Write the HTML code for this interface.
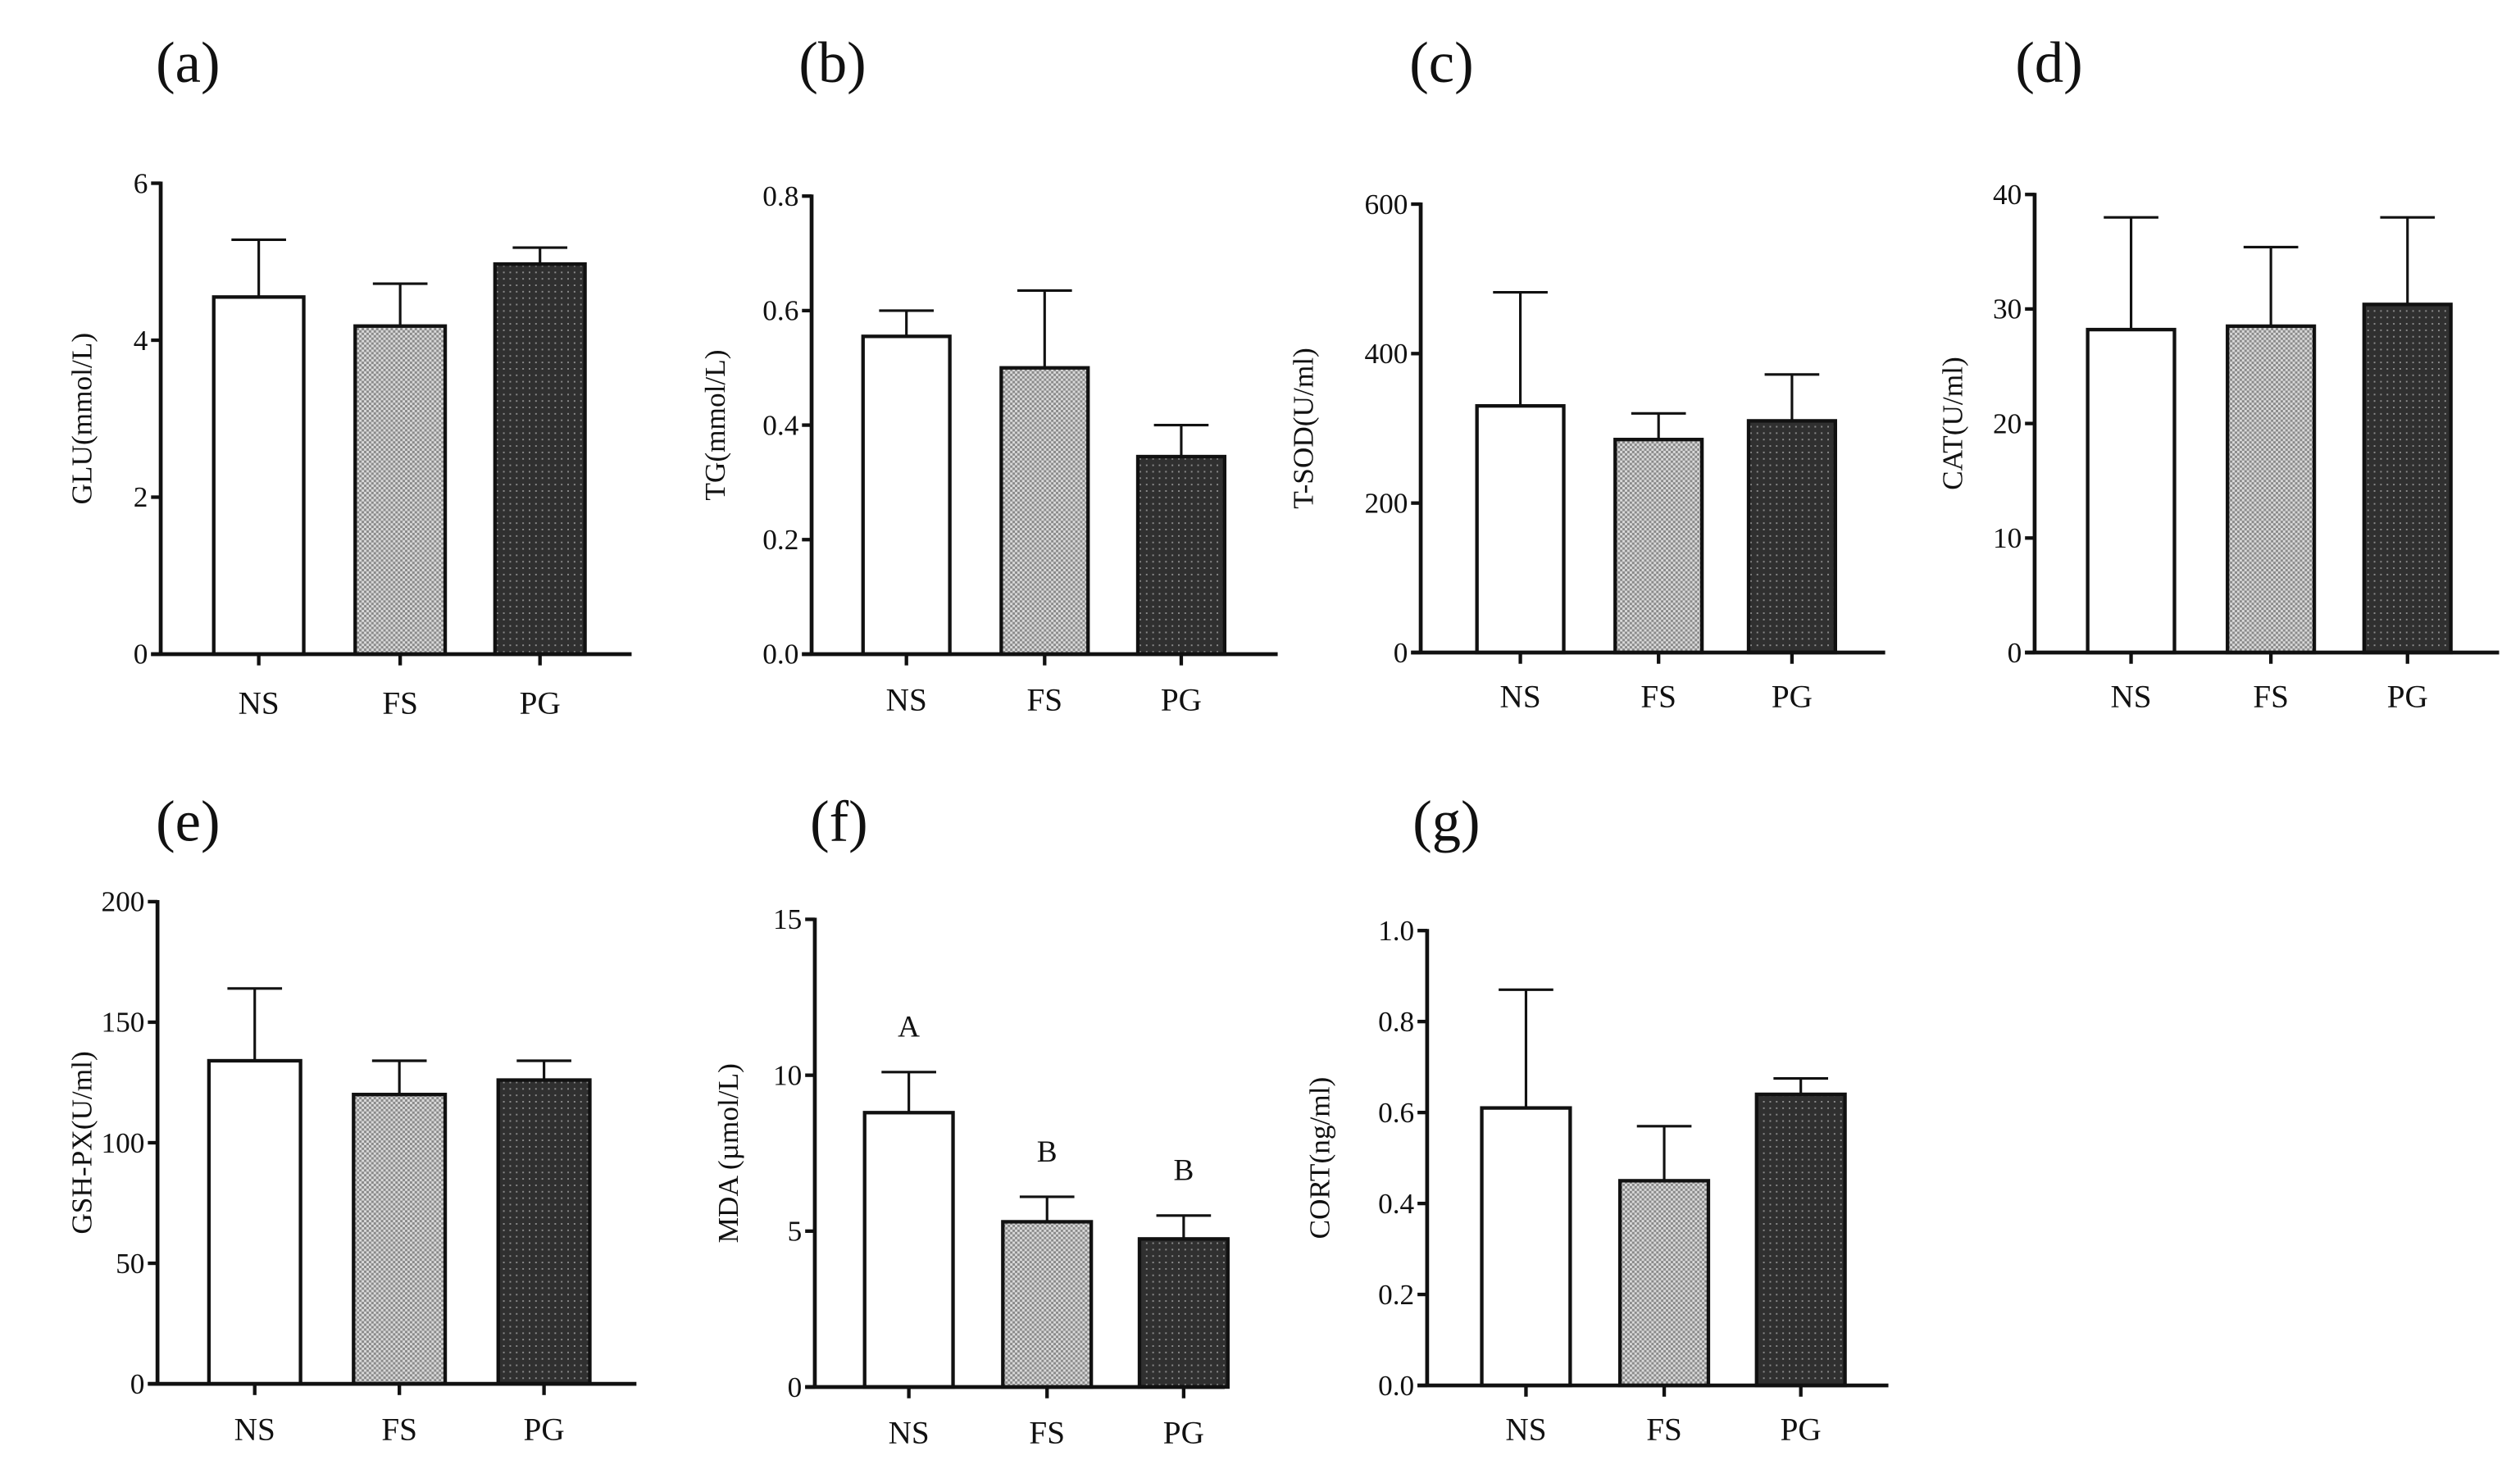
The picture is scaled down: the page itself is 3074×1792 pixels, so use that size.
<!DOCTYPE html>
<html><head><meta charset="utf-8"><style>
html,body{margin:0;padding:0;background:#fff;}
svg{display:block;}
text{font-family:"Liberation Serif",serif;fill:#111;}
</style></head><body>
<svg id="fig" width="3074" height="1792" viewBox="0 0 1568 914" preserveAspectRatio="none" xmlns="http://www.w3.org/2000/svg">
<defs>
<pattern id="pFS" width="3" height="3" patternUnits="userSpaceOnUse"><rect width="3" height="3" fill="#d8d8d8"/><rect width="1.5" height="1.5" fill="#8a8a8a"/><rect x="1.5" y="1.5" width="1.5" height="1.5" fill="#8a8a8a"/></pattern>
<pattern id="pPG" width="4" height="4" patternUnits="userSpaceOnUse"><rect width="4" height="4" fill="#303030"/><rect x="1" y="1" width="1" height="1" fill="#8a8a8a"/></pattern>
</defs>
</svg>
<script>
const categories = ["NS","FS","PG"];
const gluValues = [4.55, 4.18, 4.97];
const gluErrors = [5.28, 4.72, 5.18];
const gluTicks = [0, 2, 4, 6];
const tgValues = [0.555, 0.50, 0.345];
const tgErrors = [0.60, 0.635, 0.40];
const tgTicks = [0.0, 0.2, 0.4, 0.6, 0.8];
const sodValues = [330, 285, 310];
const sodErrors = [482, 320, 372];
const sodTicks = [0, 200, 400, 600];
const catValues = [28.2, 28.5, 30.4];
const catErrors = [38, 35.4, 38];
const catTicks = [0, 10, 20, 30, 40];
const gshValues = [134, 120, 126];
const gshErrors = [164, 134, 134];
const gshTicks = [0, 50, 100, 150, 200];
const mdaValues = [8.8, 5.3, 4.75];
const mdaErrors = [10.1, 6.1, 5.5];
const mdaTicks = [0, 5, 10, 15];
const mdaLetters = ["A","B","B"];
const cortValues = [0.61, 0.45, 0.64];
const cortErrors = [0.87, 0.57, 0.675];
const cortTicks = [0.0, 0.2, 0.4, 0.6, 0.8, 1.0];

const NS = "http://www.w3.org/2000/svg";
const svg = document.getElementById('fig');
function mk(tag, attrs, parent){
  const e = document.createElementNS(NS, tag);
  for (const k in attrs) e.setAttribute(k, attrs[k]);
  (parent||svg).appendChild(e);
  return e;
}
const fills = ["#fff","url(#pFS)","url(#pPG)"];

function panel(id, label, title, ticks, dec, vals, errs, L, letters){
  const g = mk('g', {});
  
  
  const max = ticks[ticks.length-1];
  const y = v => L.y0 - (v / max) * (L.y0 - L.yTop);
  const lab = mk('text', {x: L.lx, y: L.ly, 'font-size': 36}, g);
  lab.textContent = label;
  
  
  const yt = mk('text', {x: 0, y: 0, 'font-size': 18, 'text-anchor': 'middle', transform: `translate(${L.tx},${(L.y0+L.yTop)/2}) rotate(-90)`}, g);
  yt.textContent = title;
  
  
  ticks.forEach(t => {
    const ty = y(t);
    mk('line', {x1: L.ax-6, x2: L.ax, y1: ty, y2: ty, stroke: '#111', 'stroke-width': 2.2}, g);
    const tl = mk('text', {x: L.ax-8, y: ty+6, 'font-size': 18, 'text-anchor': 'end'}, g);
    tl.textContent = t.toFixed(dec);
    
    
  });
  vals.forEach((v, i) => {
    const x0 = L.bx[i], w = L.bw;
    const cx = x0 + w/2;
    const er = mk('path', {d: `M${cx},${y(v)} V${y(errs[i])} M${cx-17},${y(errs[i])} H${cx+17}`, stroke: '#111', 'stroke-width': 1.6, fill: 'none'}, g);
    
    
    const r = mk('rect', {x: x0, y: y(v), width: w, height: L.y0 - y(v), fill: fills[i], stroke: '#111', 'stroke-width': 2.2}, g);
    
    
    mk('line', {x1: cx, x2: cx, y1: L.y0, y2: L.y0+7, stroke: '#111', 'stroke-width': 2.2}, g);
    const cl = mk('text', {x: cx, y: L.cy, 'font-size': 20, 'text-anchor': 'middle'}, g);
    cl.textContent = categories[i];
    
    
    if (letters){
      const lt = mk('text', {x: cx, y: y(errs[i]) - 22, 'font-size': 19, 'text-anchor': 'middle'}, g);
      lt.textContent = letters[i];
      
      
    }
  });
  mk('line', {x1: L.ax, x2: L.ax, y1: L.yTop-1, y2: L.y0+1, stroke: '#111', 'stroke-width': 2.4}, g);
  mk('line', {x1: L.ax-6, x2: L.xEnd, y1: L.y0, y2: L.y0, stroke: '#111', 'stroke-width': 2.4}, g);
}

panel('a','(a)','GLU(mmol/L)',gluTicks,0,gluValues,gluErrors,{ax:100,yTop:114,y0:407,xEnd:393,bx:[133,221,308],bw:56,cy:444,lx:97,ly:51,tx:57});
panel('b','(b)','TG(mmol/L)',tgTicks,1,tgValues,tgErrors,{ax:505,yTop:122,y0:407,xEnd:795,bx:[537,623,708],bw:54,cy:442,lx:497,ly:51,tx:451});
panel('c','(c)','T-SOD(U/ml)',sodTicks,0,sodValues,sodErrors,{ax:884,yTop:127,y0:406,xEnd:1173,bx:[919,1005,1088],bw:54,cy:440,lx:877,ly:51,tx:817});
panel('d','(d)','CAT(U/ml)',catTicks,0,catValues,catErrors,{ax:1266,yTop:121,y0:406,xEnd:1555,bx:[1299,1386,1471],bw:54,cy:440,lx:1254,ly:51,tx:1221});
panel('e','(e)','GSH-PX(U/ml)',gshTicks,0,gshValues,gshErrors,{ax:98,yTop:561,y0:861,xEnd:396,bx:[130,220,310],bw:57,cy:896,lx:97,ly:523,tx:57});
panel('f','(f)','MDA (µmol/L)',mdaTicks,0,mdaValues,mdaErrors,{ax:507,yTop:572,y0:863,xEnd:762,bx:[538,624,709],bw:55,cy:898,lx:504,ly:523,tx:459},mdaLetters);
panel('g','(g)','CORT(ng/ml)',cortTicks,1,cortValues,cortErrors,{ax:888,yTop:579,y0:862,xEnd:1175,bx:[922,1008,1093],bw:55,cy:896,lx:879,ly:523,tx:827});
</script>
</body></html>
